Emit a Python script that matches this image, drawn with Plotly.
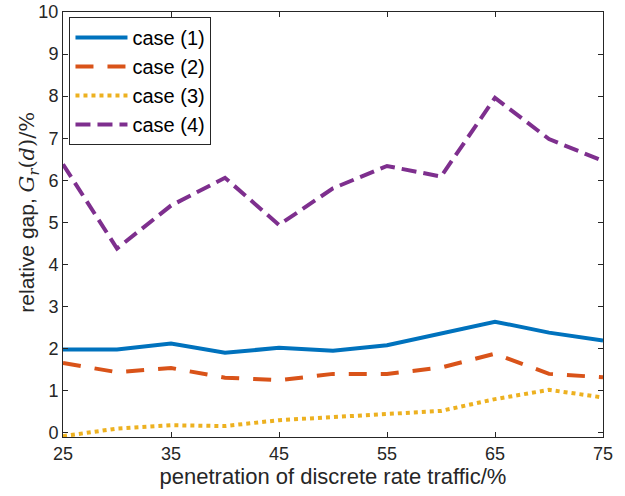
import plotly.graph_objects as go

x_vals = [25, 30, 35, 40, 45, 50, 55, 60, 65, 70, 75]
case1 = [1.98, 1.98, 2.12, 1.90, 2.02, 1.95, 2.08, 2.36, 2.64, 2.38, 2.19]
case2 = [1.66, 1.44, 1.54, 1.31, 1.25, 1.40, 1.40, 1.55, 1.88, 1.40, 1.32]
case3 = [-0.08, 0.10, 0.18, 0.16, 0.30, 0.37, 0.43, 0.52, 0.80, 1.02, 0.84]
case4 = [6.38, 4.38, 5.40, 6.06, 4.94, 5.81, 6.34, 6.09, 7.96, 6.98, 6.46]
names = ["case (1)", "case (2)", "case (3)", "case (4)"]
x_ticks = [25, 35, 45, 55, 65, 75]
y_ticks = list(range(0, 11))

colors = ["#0072BD", "#D95319", "#EDB120", "#7E2F8E"]
dashes = ["solid", "18px,14px", "4px,4px", "15px,7px"]

fig = go.Figure()
for name, ys, c, d in zip(names, [case1, case2, case3, case4], colors, dashes):
    fig.add_trace(go.Scatter(x=x_vals, y=ys, mode="lines", name=name,
                             line=dict(color=c, width=4, dash=d)))

axis_common = dict(showgrid=False, zeroline=False, showline=True, mirror="ticks",
                   linecolor="#262626", linewidth=1, ticks="inside", ticklen=5,
                   tickcolor="#262626", tickfont=dict(size=18, color="#262626"),
                   automargin=False)

serif = "font-family:'DejaVu Serif','Liberation Serif',serif"
ytitle = ("relative gap, <span style=\"" + serif + "\"><i>G<sub>r</sub></i>(<i>d</i>)/%</span>")

fig.update_layout(
    width=625, height=496,
    margin=dict(l=63, r=22, t=12, b=59),
    paper_bgcolor="white", plot_bgcolor="white",
    font=dict(family="Liberation Sans, Arial, sans-serif", color="#262626"),
    xaxis=dict(range=[25, 75], tickvals=x_ticks,
               title=dict(text="penetration of discrete rate traffic/%", font=dict(size=22), standoff=2),
               **axis_common),
    yaxis=dict(range=[-0.1, 10], tickvals=y_ticks, **axis_common),
    legend=dict(x=0.012, y=0.988, xanchor="left", yanchor="top",
                bgcolor="white", bordercolor="#262626", borderwidth=1,
                font=dict(size=20, color="black"), tracegroupgap=0, itemwidth=52),
    showlegend=True,
)

fig.add_annotation(text=ytitle, textangle=-90, xref="paper", yref="paper",
                   x=-0.065, y=0.53, xanchor="center", yanchor="middle",
                   showarrow=False, font=dict(size=21, color="#262626"))

fig.write_html("out.html", config={"displayModeBar": False},
               post_script="document.body.style.margin='0';")
